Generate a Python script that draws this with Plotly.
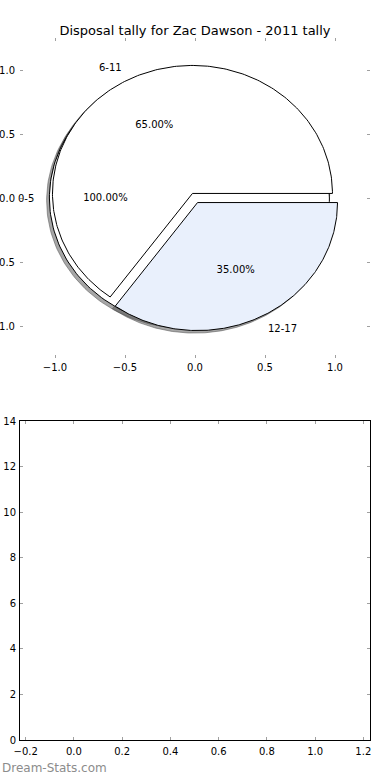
import numpy as np
import plotly.graph_objects as go

# ---- data ----
categories = ["0-5", "6-11", "12-17"]
fractions = [1.00, 0.65, 0.35]          # shown as autopct labels
pct_labels = ["100.00%", "65.00%", "35.00%"]
explode = [0.04, 0.04, 0.04]
colors = ["#FFFFFF", "#FFFFFF", "#E9F0FC"]
title_text = "Disposal tally for Zac Dawson - 2011 tally"
pie_ticks = [-1.0, -0.5, 0.0, 0.5, 1.0]
bar_xticks = [-0.2, 0.0, 0.2, 0.4, 0.6, 0.8, 1.0, 1.2]
bar_yticks = [0, 2, 4, 6, 8, 10, 12, 14]

FONT = "DejaVu Sans"
W, H = 390, 780

fig = go.Figure()

# compute wedges like matplotlib pie (unnormalised, cumulative angles, startangle 0)
wedges = []
theta1 = 0.0
for frac, ex in zip(fractions, explode):
    theta2 = theta1 + 360.0 * frac
    mid = np.deg2rad((theta1 + theta2) / 2.0)
    cx, cy = ex * np.cos(mid), ex * np.sin(mid)
    full = abs((theta2 - theta1) - 360.0) < 1e-9
    t = np.deg2rad(np.linspace(theta1, theta2, 241))
    ax_ = cx + np.cos(t)
    ay_ = cy + np.sin(t)
    if full:
        px, py = list(ax_), list(ay_)
    else:
        px = [cx] + list(ax_) + [cx]
        py = [cy] + list(ay_) + [cy]
    wedges.append((px, py, cx, cy, mid))
    theta1 = theta2

# shadows (behind all wedges)
for px, py, cx, cy, mid in wedges:
    fig.add_trace(go.Scatter(
        x=[v - 0.02 for v in px], y=[v - 0.02 for v in py],
        mode="lines", fill="toself", fillcolor="rgba(77,77,77,0.5)",
        line=dict(color="rgba(77,77,77,0.5)", width=1),
        hoverinfo="skip", showlegend=False, xaxis="x", yaxis="y"))

# wedges
for (px, py, cx, cy, mid), col in zip(wedges, colors):
    fig.add_trace(go.Scatter(
        x=px, y=py, mode="lines", fill="toself", fillcolor=col,
        line=dict(color="black", width=1),
        hoverinfo="skip", showlegend=False, xaxis="x", yaxis="y"))

# autopct labels
fig.add_trace(go.Scatter(
    x=[w[2] + 0.6 * np.cos(w[4]) for w in wedges],
    y=[w[3] + 0.6 * np.sin(w[4]) for w in wedges],
    mode="text", text=pct_labels,
    textfont=dict(family=FONT, size=10, color="black"),
    hoverinfo="skip", showlegend=False, xaxis="x", yaxis="y"))

annotations = []
for (px, py, cx, cy, mid), lab in zip(wedges, categories):
    lx = cx + 1.1 * np.cos(mid)
    ly = cy + 1.1 * np.sin(mid)
    annotations.append(dict(
        x=lx, y=ly, xref="x", yref="y", text=lab, showarrow=False,
        xanchor="right" if lx < 0 else "left", yanchor="middle",
        borderpad=0, font=dict(family=FONT, size=10, color="black")))

annotations.append(dict(
    x=0, y=1 - 768 / H, xref="paper", yref="paper", yanchor="middle",
    xanchor="left", text="Dream-Stats.com", showarrow=False,
    font=dict(family=FONT, size=12, color="#8c8c8c")))

# empty second axes
fig.add_trace(go.Scatter(x=[], y=[], mode="markers", showlegend=False,
                         xaxis="x2", yaxis="y2"))

tick_common = dict(ticks="inside", ticklen=3, tickwidth=1, tickcolor="#a0a0a0",
                   showgrid=False, zeroline=False, automargin=False,
                   tickfont=dict(family=FONT, size=10, color="black"),
                   tickformat=".1f")

fig.update_layout(
    width=W, height=H, autosize=False,
    margin=dict(l=0, r=0, t=0, b=0),
    paper_bgcolor="white", plot_bgcolor="white",
    showlegend=False,
    title=dict(text=title_text, x=0.5, xanchor="center", y=1 - 30 / H,
               yanchor="middle", font=dict(family=FONT, size=13, color="black")),
    xaxis=dict(domain=[20 / W, 370 / W], range=[-1.25, 1.25],
               tickvals=pie_ticks, showline=True, linecolor="rgba(0,0,0,0)",
               mirror="ticks", anchor="y", **tick_common),
    yaxis=dict(domain=[1 - 358 / H, 1 - 38 / H], range=[-1.25, 1.25],
               tickvals=pie_ticks, showline=True, linecolor="rgba(0,0,0,0)",
               mirror="ticks", anchor="x", ticklabelstandoff=2, **tick_common),
    xaxis2=dict(domain=[20 / W, 370 / W], range=[-0.2236, 1.2277],
                tickvals=bar_xticks, showline=True, linecolor="black",
                linewidth=1, mirror="ticks", anchor="y2", ticklabelstandoff=2,
                **tick_common),
    yaxis2=dict(domain=[1 - 740 / H, 1 - 421 / H], range=[0, 14],
                tickvals=bar_yticks, showline=True, linecolor="black",
                linewidth=1, mirror="ticks", anchor="x2", ticklabelstandoff=1,
                **{**tick_common, "tickformat": "d"}),
    annotations=annotations,
)

fig.write_html("out.html")
